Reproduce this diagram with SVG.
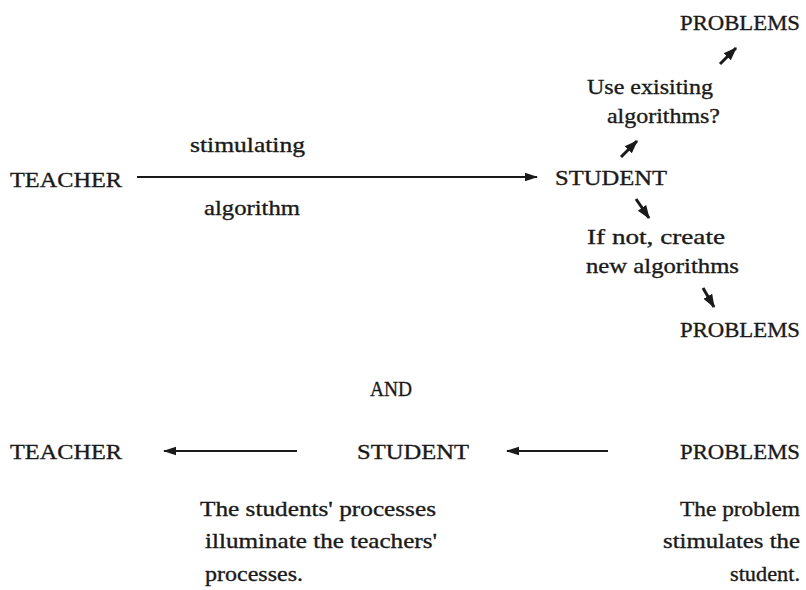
<svg xmlns="http://www.w3.org/2000/svg" width="806" height="590" viewBox="0 0 806 590">
<style>
text{font-family:"Liberation Serif","Times New Roman",serif;font-size:22px;fill:#1a1a1a;stroke:#1a1a1a;stroke-width:0.35}
.ln{stroke:#1a1a1a;stroke-width:2.2;fill:none}
</style>
<defs>
<marker id="ah" viewBox="0 0 12 10" refX="11" refY="5" markerWidth="6" markerHeight="5" markerUnits="strokeWidth" orient="auto">
<path d="M0,1 L12,5 L0,9 Z" fill="#1a1a1a"/>
</marker>
<marker id="ahb" viewBox="0 0 12 10" refX="11" refY="5" markerWidth="4.5" markerHeight="4" markerUnits="strokeWidth" orient="auto">
<path d="M0,0.5 L12,5 L0,9.5 Z" fill="#1a1a1a"/>
</marker>
</defs>
<rect width="806" height="590" fill="#ffffff"/>
<g id="connectors">
<line class="ln" x1="137" y1="177" x2="537" y2="177" marker-end="url(#ah)"/>
<line class="ln" style="stroke-width:3" x1="720" y1="64" x2="736" y2="48" marker-end="url(#ahb)"/>
<line class="ln" style="stroke-width:3" x1="621" y1="157" x2="637" y2="141" marker-end="url(#ahb)"/>
<line class="ln" style="stroke-width:3" x1="636" y1="199" x2="649" y2="218" marker-end="url(#ahb)"/>
<line class="ln" style="stroke-width:3" x1="703" y1="288" x2="714" y2="307" marker-end="url(#ahb)"/>
<line class="ln" x1="297" y1="451" x2="164" y2="451" marker-end="url(#ah)"/>
<line class="ln" x1="608" y1="451" x2="507" y2="451" marker-end="url(#ah)"/>
</g>
<g id="teacher-top"><text x="10" y="187" textLength="112" lengthAdjust="spacingAndGlyphs">TEACHER</text></g>
<g id="edge-label-top"><text x="190" y="152" textLength="115" lengthAdjust="spacingAndGlyphs">stimulating</text><text x="204" y="215" textLength="96" lengthAdjust="spacingAndGlyphs">algorithm</text></g>
<g id="student-top"><text x="555" y="185" textLength="112" lengthAdjust="spacingAndGlyphs">STUDENT</text></g>
<g id="question-use"><text x="587" y="94" textLength="126" lengthAdjust="spacingAndGlyphs">Use exisiting</text><text x="607" y="123" textLength="113" lengthAdjust="spacingAndGlyphs">algorithms?</text></g>
<g id="problems-top"><text x="680" y="30" textLength="120" lengthAdjust="spacingAndGlyphs">PROBLEMS</text></g>
<g id="question-create"><text x="587" y="244" textLength="138" lengthAdjust="spacingAndGlyphs">If not, create</text><text x="586" y="273" textLength="153" lengthAdjust="spacingAndGlyphs">new algorithms</text></g>
<g id="problems-mid"><text x="680" y="337" textLength="120" lengthAdjust="spacingAndGlyphs">PROBLEMS</text></g>
<g id="and"><text x="370" y="396" textLength="42" lengthAdjust="spacingAndGlyphs">AND</text></g>
<g id="teacher-bottom"><text x="10" y="459" textLength="112" lengthAdjust="spacingAndGlyphs">TEACHER</text></g>
<g id="student-bottom"><text x="357" y="459" textLength="112" lengthAdjust="spacingAndGlyphs">STUDENT</text></g>
<g id="problems-bottom"><text x="680" y="459" textLength="120" lengthAdjust="spacingAndGlyphs">PROBLEMS</text></g>
<g id="note-students"><text x="200" y="516" textLength="236" lengthAdjust="spacingAndGlyphs">The students' processes</text><text x="205" y="548" textLength="232" lengthAdjust="spacingAndGlyphs">illuminate the teachers'</text><text x="205" y="581" textLength="98" lengthAdjust="spacingAndGlyphs">processes.</text></g>
<g id="note-problem"><text x="680" y="516" textLength="120" lengthAdjust="spacingAndGlyphs">The problem</text><text x="663" y="548" textLength="137" lengthAdjust="spacingAndGlyphs">stimulates the</text><text x="730" y="581" textLength="70" lengthAdjust="spacingAndGlyphs">student.</text></g>
</svg>
